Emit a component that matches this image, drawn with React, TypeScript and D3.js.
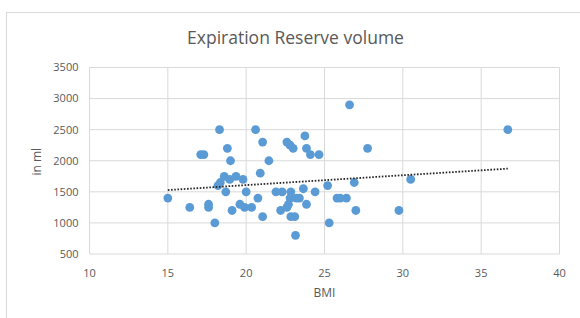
import * as d3 from "d3";

// BMI vs expiration reserve volume
const bmi = [
  15.0, 16.4, 17.1, 17.3, 17.6, 17.6, 18.0, 18.2, 18.3, 18.35, 18.6, 18.7,
  18.8, 18.95, 19.0, 19.1, 19.35, 19.6, 19.8, 19.9, 20.0, 20.35, 20.6, 20.75,
  20.9, 21.05, 21.05, 21.45, 21.9, 22.2, 22.3, 22.6, 22.6, 22.7, 22.8, 22.8,
  22.85, 22.85, 23.0, 23.1, 23.15, 23.2, 23.4, 23.65, 23.75, 23.85, 23.85,
  24.1, 24.4, 24.65, 25.2, 25.3, 25.8, 26.0, 26.4, 26.6, 26.9, 27.0, 27.75,
  29.75, 30.5, 36.7,
];
const erv = [
  1400, 1250, 2100, 2100, 1300, 1250, 1000, 1600, 2500, 1650, 1750, 1500,
  2200, 1700, 2000, 1200, 1750, 1300, 1700, 1250, 1500, 1250, 2500, 1400,
  1800, 2300, 1100, 2000, 1500, 1200, 1500, 2300, 1250, 1300, 1400, 2250,
  1500, 1100, 2200, 1100, 800, 1400, 1400, 1550, 2400, 2200, 1300,
  2100, 1500, 2100, 1600, 1000, 1400, 1400, 1400, 2900, 1650, 1200, 2200,
  1200, 1700, 2500,
];
const xTicks = [10, 15, 20, 25, 30, 35, 40];
const yTicks = [500, 1000, 1500, 2000, 2500, 3000, 3500];

const width = 580;
const height = 318;
const margin = { top: 67.5, right: 20.5, bottom: 64, left: 89.5 };

const font = "'Segoe UI', 'Open Sans', 'DejaVu Sans', sans-serif";
const textColor = "#595959";
const gridColor = "#d9d9d9";

const App = () => {
  const x = d3
    .scaleLinear()
    .domain([10, 40])
    .range([margin.left, width - margin.right]);
  const y = d3
    .scaleLinear()
    .domain([500, 3500])
    .range([height - margin.bottom, margin.top]);

  // linear trend line (least squares), like Excel's
  const points: [number, number][] = bmi.map((b, i) => [b, erv[i]]);
  const mx = d3.mean(bmi)!;
  const my = d3.mean(erv)!;
  const slope =
    d3.sum(points, ([a, b]) => (a - mx) * (b - my)) /
    d3.sum(points, ([a]) => (a - mx) ** 2);
  const intercept = my - slope * mx;
  const [x0, x1] = d3.extent(bmi) as [number, number];
  const trend = d3.line<number>()
    .x((d) => x(d))
    .y((d) => y(intercept + slope * d))([x0, x1]);

  return (
    <svg
      width={width}
      height={height}
      style={{ position: "absolute", left: 0, top: 0, background: "#fff" }}
      fontFamily={font}
    >
      <rect x={6.5} y={12.5} width={620} height={400} fill="#fff" stroke={gridColor} />
      <text
        x={295.5}
        y={44}
        textAnchor="middle"
        fontSize={17.5}
        fill={textColor}
      >
        Expiration Reserve volume
      </text>

      {/* grid */}
      {yTicks.map((t) => (
        <line
          key={"gy" + t}
          x1={x(10)}
          x2={x(40)}
          y1={y(t)}
          y2={y(t)}
          stroke={gridColor}
        />
      ))}
      {xTicks.map((t) => (
        <line
          key={"gx" + t}
          x1={x(t)}
          x2={x(t)}
          y1={y(500)}
          y2={y(3500)}
          stroke={gridColor}
        />
      ))}

      {/* tick labels */}
      {yTicks.map((t) => (
        <text
          key={"ly" + t}
          x={x(10) - 11}
          y={y(t)}
          dy="0.35em"
          textAnchor="end"
          fontSize={11}
          fill={textColor}
        >
          {t}
        </text>
      ))}
      {xTicks.map((t) => (
        <text
          key={"lx" + t}
          x={x(t)}
          y={y(500) + 19}
          dy="0.35em"
          textAnchor="middle"
          fontSize={11}
          fill={textColor}
        >
          {t}
        </text>
      ))}

      {/* axis titles */}
      <text
        x={x(25)}
        y={y(500) + 39}
        dy="0.35em"
        textAnchor="middle"
        fontSize={12}
        fill={textColor}
      >
        BMI
      </text>
      <text
        transform={`translate(37,${y(2000) + 1}) rotate(-90)`}
        dy="0.35em"
        textAnchor="middle"
        fontSize={12}
        fill={textColor}
      >
        in ml
      </text>

      {/* points */}
      {points.map(([a, b], i) => (
        <circle key={i} cx={x(a)} cy={y(b)} r={4.4} fill="#5b9bd5" />
      ))}

      <path
        d={trend!}
        fill="none"
        stroke="#262626"
        strokeWidth={1.8}
        strokeDasharray="1.6 1.6"
      />
    </svg>
  );
};

export default App;
